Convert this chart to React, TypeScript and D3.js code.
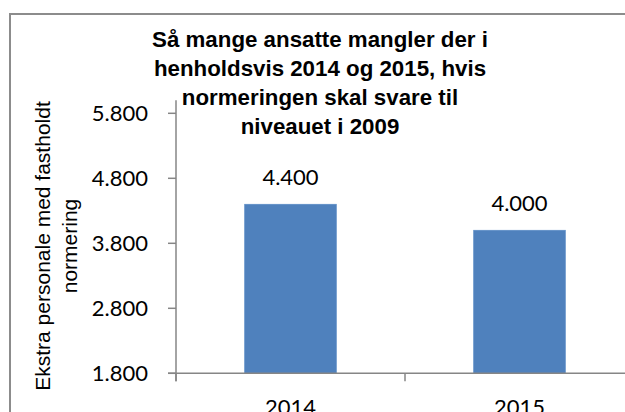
import React from "react";
import * as d3 from "d3";

const categories = ["2014", "2015"];
const values = [4400, 4000];
const yTicks = [1800, 2800, 3800, 4800, 5800];
const yDomain = [1800, 6000];
const titleLines = [
  "Så mange ansatte mangler der i",
  "henholdsvis 2014 og 2015, hvis",
  "normeringen skal svare til",
  "niveauet i 2009",
];
const yTitleLines = ["Ekstra personale med fastholdt", "normering"];

const W = 625;
const H = 412;
const plotLeft = 176;
const plotRight = 634;
const plotTop = 100.3;
const plotBottom = 373.3;

const locale = d3.formatLocale({ decimal: ",", thousands: ".", grouping: [3], currency: ["", " kr."] });
const fmt = locale.format(",.0f");

const numFont = "Lato, 'Open Sans', sans-serif";
const axisColor = "#868686";

export default function App() {
  const y = d3.scaleLinear().domain(yDomain).range([plotBottom, plotTop]);
  const x = d3.scaleBand().domain(categories).range([plotLeft, plotRight]).padding(0);
  const bw = x.bandwidth();
  const barW = bw * 0.4;
  const catBoundaries = [plotLeft, ...categories.map((c) => (x(c) as number) + bw)];

  return (
    <svg
      width={W}
      height={H}
      style={{ position: "absolute", left: 0, top: 0, background: "#fff" }}
    >
      <rect x={0} y={0} width={W} height={H} fill="#fff" />
      <rect x={10} y={14} width={700} height={500} fill="#fff" stroke="#8c8c8c" strokeWidth={2} />

      {/* bars */}
      {categories.map((c, i) => {
        const cx = (x(c) as number) + bw / 2;
        return (
          <g key={c}>
            <rect
              x={cx - barW / 2}
              y={y(values[i])}
              width={barW}
              height={plotBottom - y(values[i])}
              fill="#4F81BD"
              stroke="#5b8cc6"
              strokeWidth={0.75}
            />
            <text
              x={cx}
              y={y(values[i]) - 19}
              textAnchor="middle"
              fontFamily={numFont}
              fontSize={22}
              fill="#000"
            >
              {fmt(values[i])}
            </text>
            <text
              x={cx}
              y={415}
              textAnchor="middle"
              fontFamily={numFont}
              fontSize={22}
              fill="#000"
            >
              {c}
            </text>
          </g>
        );
      })}

      {/* y axis */}
      <line x1={plotLeft} x2={plotLeft} y1={plotTop} y2={plotBottom + 8} stroke={axisColor} strokeWidth={1.5} />
      {yTicks.map((t) => (
        <g key={t}>
          <line x1={plotLeft - 8} x2={plotLeft} y1={y(t)} y2={y(t)} stroke={axisColor} strokeWidth={1.5} />
          <text
            x={148}
            y={y(t)}
            dy="0.35em"
            textAnchor="end"
            fontFamily={numFont}
            fontSize={22}
            fill="#000"
          >
            {fmt(t)}
          </text>
        </g>
      ))}

      {/* x axis */}
      <line x1={plotLeft - 8} x2={plotRight} y1={plotBottom} y2={plotBottom} stroke={axisColor} strokeWidth={1.5} />
      {catBoundaries.map((b, i) => (
        <line key={i} x1={b} x2={b} y1={plotBottom} y2={plotBottom + 8} stroke={axisColor} strokeWidth={1.5} />
      ))}

      {/* y axis title */}
      <g transform={`translate(0, 246) rotate(-90)`}>
        {yTitleLines.map((l, i) => (
          <text
            key={i}
            x={0}
            y={50 + i * 27}
            textAnchor="middle"
            fontFamily="'Liberation Sans', Arial, sans-serif"
            fontSize={21}
            fill="#000"
          >
            {l}
          </text>
        ))}
      </g>

      {/* title */}
      {titleLines.map((l, i) => (
        <text
          key={i}
          x={320}
          y={47 + i * 29}
          textAnchor="middle"
          fontFamily="'Liberation Sans', Arial, sans-serif"
          fontWeight="bold"
          fontSize={22.3}
          fill="#000"
        >
          {l}
        </text>
      ))}
    </svg>
  );
}
